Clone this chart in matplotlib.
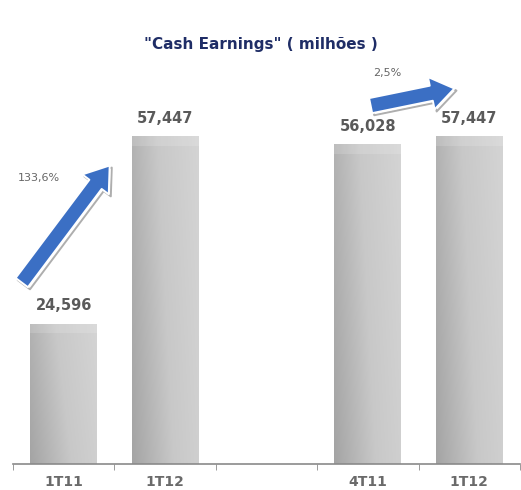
import numpy as np
import matplotlib
matplotlib.use("Agg")
from matplotlib import pyplot as plt
from matplotlib.colors import LinearSegmentedColormap
import matplotlib.patheffects as pe

# dados
labels = ["1T11", "1T12", "", "4T11", "1T12"]
values = [24596, 57447, np.nan, 56028, 57447]
value_text = ["24,596", "57,447", "", "56,028", "57,447"]
growth = ["133,6%", "2,5%"]

x = np.arange(len(labels))

fig = plt.figure(figsize=(5.21, 4.90), dpi=100)
ax = fig.add_axes([13 / 521, 26 / 490, 507 / 521, 428 / 490])

bars = ax.bar(x, values, width=0.66, color="#bdbdbd", edgecolor="none")

# gradiente cinza diagonal em cada barra
gx, gy = np.meshgrid(np.linspace(0, 1, 128), np.linspace(0, 1, 128))
grad = 0.8 * gx + 0.2 * (1 - gy)
cmap = LinearSegmentedColormap.from_list("g", ["#a4a4a4", "#c8c8c8", "#d4d4d4"])
for b in bars:
    if np.isnan(b.get_height()):
        continue
    x0, w, h = b.get_x(), b.get_width(), b.get_height()
    im = ax.imshow(grad, cmap=cmap, origin="upper",
                   extent=[x0, x0 + w, 0, h], aspect="auto", zorder=2)
    im.set_clip_path(b)
    # faixa mais clara no topo
    ax.bar(b.get_x() + w / 2, 1700, bottom=h - 1700, width=w,
           color="white", alpha=0.15, zorder=3)

for xi, v, t in zip(x, values, value_text):
    if t:
        ax.text(xi, v + 1800, t, ha="center", va="bottom", fontsize=10.5,
                fontweight="bold", color="#5a5a5a")

# setas de crescimento
arrow_style = "simple,head_width=1.4,head_length=1.0,tail_width=0.65"
shadow = [pe.SimpleLineShadow(offset=(1.5, -1.5), shadow_color="#8c8c8c", alpha=0.7),
          pe.Normal()]
ax.annotate("", xy=(0.47, 52700), xytext=(-0.43, 31400),
            arrowprops=dict(arrowstyle=arrow_style, mutation_scale=17,
                            fc="#3b6fc4", ec="white", lw=1.4,
                            path_effects=shadow), zorder=5)
ax.annotate("", xy=(3.88, 65900), xytext=(3.0, 62700),
            arrowprops=dict(arrowstyle=arrow_style, mutation_scale=17,
                            fc="#3b6fc4", ec="white", lw=1.4,
                            path_effects=shadow), zorder=5)
ax.text(-0.24, 50100, growth[0], ha="center", va="center", fontsize=8,
        color="#666666")
ax.text(3.19, 68500, growth[1], ha="center", va="center", fontsize=8,
        color="#666666")

ax.set_xlim(-0.5, 4.5)
ax.set_ylim(0, 75000)
ax.set_xticks(x)
ax.set_xticklabels(labels, fontsize=10, fontweight="bold", color="#6a6a6a")
ax.set_xticks(np.arange(-0.5, 5.0, 1.0), minor=True)
ax.tick_params(axis="x", which="major", length=0, pad=8)
ax.tick_params(axis="x", which="minor", length=4, color="#8a8a8a", direction="out")
ax.set_yticks([])
for s in ["top", "right", "left"]:
    ax.spines[s].set_visible(False)
ax.spines["bottom"].set_color("#8a8a8a")
ax.spines["bottom"].set_linewidth(1.2)

fig.text(0.5, 1 - 45 / 490, '"Cash Earnings" ( milhões )', ha="center",
         va="center", fontsize=11, fontweight="bold", color="#1f2d66")

fig.savefig("out.png", dpi=100)
